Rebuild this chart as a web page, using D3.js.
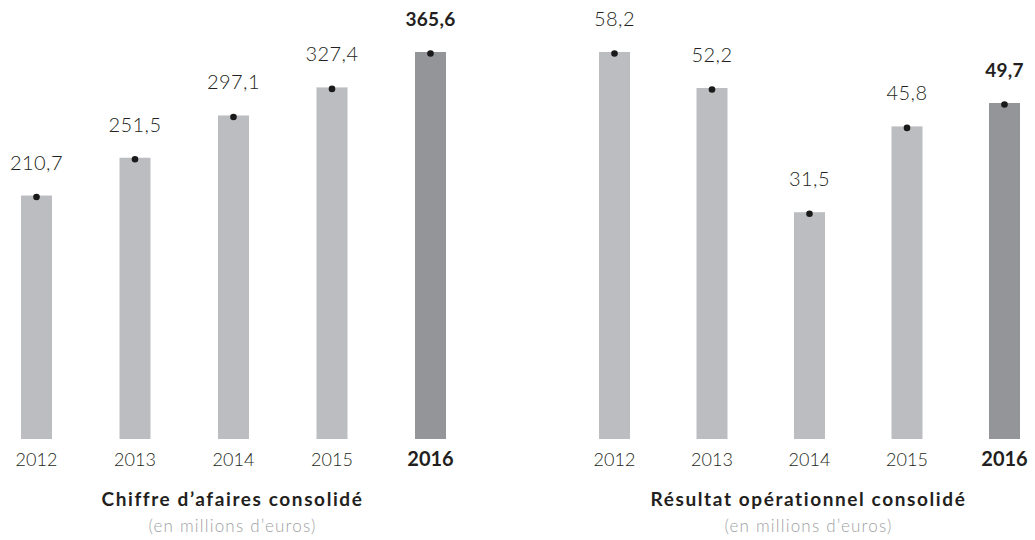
<!DOCTYPE html>
<html>
<head>
<meta charset="utf-8">
<script src="https://cdn.jsdelivr.net/npm/d3@7"></script>
<style>
  body { margin: 0; background: #fff; }
  text { font-family: "Lato", "Open Sans", sans-serif; fill: #231f20; }
</style>
</head>
<body>
<script>
// chart size
var width = 1035;
var height = 540;

// data
var years = ["2012", "2013", "2014", "2015", "2016"];
var chiffreAffaires = [210.7, 251.5, 297.1, 327.4, 365.6];
var resultatOp = [58.2, 52.2, 31.5, 45.8, 49.7];
var valueLabels1 = ["210,7", "251,5", "297,1", "327,4", "365,6"];
var valueLabels2 = ["58,2", "52,2", "31,5", "45,8", "49,7"];
var titles = ["Chiffre d\u2019afaires consolidé", "Résultat opérationnel consolidé"];
var subtitle = "(en millions d\u2019euros)";

var svg = d3.select("body")
  .append("svg")
  .attr("width", width)
  .attr("height", height);

var baseY = 439;
var topY = 52;
var barW = 31;

// one panel: values, labels, x range of bar centres, y domain floor
function drawPanel(values, labels, title, xRange, yMin) {
  var last = years.length - 1;

  var x = d3.scalePoint()
    .domain(years)
    .range(xRange);

  var y = d3.scaleLinear()
    .domain([yMin, d3.max(values)])
    .range([baseY, topY]);

  var g = svg.append("g");

  // bars
  g.selectAll("rect")
    .data(values)
    .enter()
    .append("rect")
    .attr("x", function(d, i) { return x(years[i]) - barW / 2; })
    .attr("y", function(d) { return y(d); })
    .attr("width", barW)
    .attr("height", function(d) { return baseY - y(d); })
    .style("fill", function(d, i) { return i == last ? "#939598" : "#bcbdc0"; });

  // dots on top of bars
  g.selectAll("circle")
    .data(values)
    .enter()
    .append("circle")
    .attr("cx", function(d, i) { return x(years[i]); })
    .attr("cy", function(d) { return y(d) + 1.5; })
    .attr("r", 3.3)
    .style("fill", "#1a1a1a");

  // value labels
  g.selectAll("text.val")
    .data(values)
    .enter()
    .append("text")
    .attr("class", "val")
    .attr("x", function(d, i) { return x(years[i]); })
    .attr("y", function(d) { return y(d) - 26; })
    .attr("text-anchor", "middle")
    .style("font-size", function(d, i) { return i == last ? "19px" : "20px"; })
    .style("letter-spacing", function(d, i) { return i == last ? "0.3px" : "0.4px"; })
    .style("font-weight", function(d, i) { return i == last ? "bold" : "300"; })
    .text(function(d, i) { return labels[i]; });

  // year labels
  g.selectAll("text.year")
    .data(years)
    .enter()
    .append("text")
    .attr("class", "year")
    .attr("x", function(d) { return x(d); })
    .attr("y", 466)
    .attr("text-anchor", "middle")
    .style("font-size", function(d, i) { return i == last ? "20px" : "18px"; })
    .style("font-weight", function(d, i) { return i == last ? "bold" : "300"; })
    .text(function(d) { return d; });

  var mid = x(years[2]) - 1;

  g.append("text")
    .attr("x", mid)
    .attr("y", 506)
    .attr("text-anchor", "middle")
    .style("font-size", "19px")
    .style("letter-spacing", "1.6px")
    .style("font-weight", "bold")
    .text(title);

  g.append("text")
    .attr("x", mid)
    .attr("y", 532)
    .attr("text-anchor", "middle")
    .style("font-size", "17px")
    .style("letter-spacing", "1.2px")
    .style("font-weight", "300")
    .style("fill", "#9d9fa2")
    .text(subtitle);
}

drawPanel(chiffreAffaires, valueLabels1, titles[0], [36.5, 430.5], -52);
drawPanel(resultatOp, valueLabels2, titles[1], [614.5, 1004.5], -6.3);
</script>
</body>
</html>
